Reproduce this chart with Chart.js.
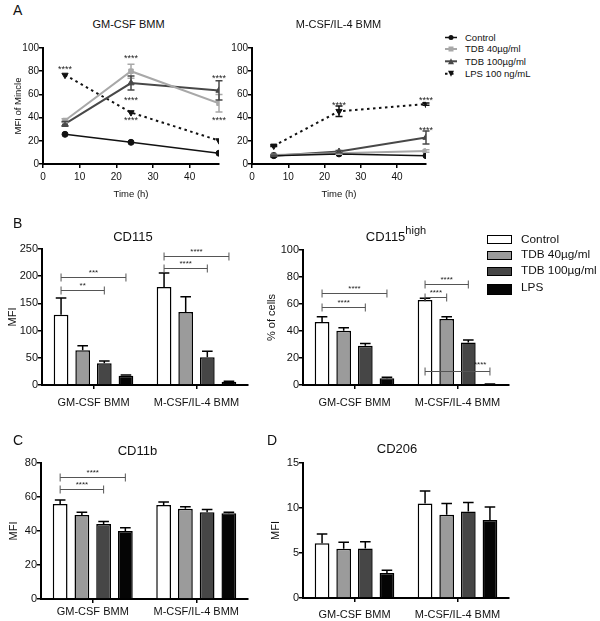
<!DOCTYPE html>
<html>
<head>
<meta charset="utf-8">
<title>Mincle, CD115, CD11b and CD206 in BMM</title>
<script src="https://cdn.jsdelivr.net/npm/chart.js@4.4.1/dist/chart.umd.min.js"></script>
<style>
  body { margin: 0; background: #fff; }
  #fig { position: relative; width: 600px; height: 621px; overflow: hidden;
         font-family: "Liberation Sans", Arial, sans-serif; color: #111; }
  #fig canvas { position: absolute; }
  .t { position: absolute; white-space: nowrap; }
  .swatch { position: absolute; box-sizing: border-box; border: 1.5px solid #000; }
</style>
</head>
<body>
<div id="fig">
  <canvas id="aGm"></canvas>
  <canvas id="aM"></canvas>
  <canvas id="bCd115"></canvas>
  <canvas id="bHigh"></canvas>
  <canvas id="cCd11b"></canvas>
  <canvas id="dCd206"></canvas>
</div>
<script>
// ---------- data ----------
const hours = [6, 24, 48];
const timeTicks = [0, 10, 20, 30, 40];
const lineNames = ['Control', 'TDB 40µg/ml', 'TDB 100µg/ml', 'LPS 100 ng/mL'];

// A: MFI of Mincle, GM-CSF BMM
const gmControl = [25.6, 18.7, 9.3];
const gmTdb40 = [37.5, 80, 52.4];
const gmTdb40Err = [1.5, 6, 7.5];
const gmTdb100 = [34.6, 69.8, 63.4];
const gmTdb100Err = [2, 6, 8.3];
const gmLps = [76.7, 44.4, 20.2];

// A: MFI of Mincle, M-CSF/IL-4 BMM
const mControl = [7.2, 8.7, 7.2];
const mTdb40 = [7.8, 9.2, 11.2];
const mTdb40Err = [0.5, 0.8, 1];
const mTdb100 = [7.2, 10.7, 22.8];
const mTdb100Err = [0.5, 1, 5.6];
const mLps = [15.6, 45.5, 51.6];
const mLpsErr = [0.5, 4.5, 1];

// B-D: one row per treatment, one value per culture
const groups = ['GM-CSF BMM', 'M-CSF/IL-4 BMM'];
const barNames = ['Control', 'TDB 40µg/ml', 'TDB 100µg/ml', 'LPS'];
const cd115 = [[129, 180], [64, 134], [40, 51], [17, 6]];
const cd115Err = [[31, 26], [8, 28], [4, 11], [1.5, 1]];
const cd115High = [[46.7, 63], [40.2, 48.9], [29.1, 31.4], [5, 0.5]];
const cd115HighErr = [[3.9, 1.2], [2.2, 1.7], [1.7, 1.9], [0.7, 0.2]];
const cd11b = [[55.9, 55.3], [49.4, 53.1], [44.1, 51], [40, 50.4]];
const cd11bErr = [[2.3, 1.7], [1.6, 1.2], [1.5, 1.7], [1.9, 0.6]];
const cd206 = [[6.07, 10.5], [5.48, 9.26], [5.5, 9.6], [2.78, 8.67]];
const cd206Err = [[1.03, 1.4], [0.72, 1.24], [0.76, 1.0], [0.29, 1.43]];

// ---------- styles ----------
const FONT = '"Liberation Sans", Arial, sans-serif';
Chart.defaults.font.family = FONT;
Chart.defaults.color = '#111';

const lineStyles = [
  { color: '#111111', width: 1.5, dash: [], point: 'circle', radius: 3, rot: 0 },
  { color: '#a8a8a8', width: 2, dash: [], point: 'rect', radius: 3.2, rot: 0 },
  { color: '#484848', width: 2, dash: [], point: 'triangle', radius: 3.6, rot: 0 },
  { color: '#111111', width: 2, dash: [2.5, 3.5], point: 'triangle', radius: 3.6, rot: 180 }
];
const barFills = ['#ffffff', '#9b9b9b', '#464646', '#050505'];

// ---------- plugins ----------
const errorBars = {
  id: 'errorBars',
  afterDatasetsDraw(chart) {
    const ctx = chart.ctx, y = chart.scales.y;
    const isBar = chart.config.type === 'bar';
    chart.data.datasets.forEach((ds, i) => {
      if (!ds.err) return;
      chart.getDatasetMeta(i).data.forEach((el, j) => {
        const e = ds.err[j];
        if (!e) return;
        const v = typeof ds.data[j] === 'object' ? ds.data[j].y : ds.data[j];
        const top = y.getPixelForValue(v + e);
        const bot = isBar ? el.y : y.getPixelForValue(v - e);
        const half = isBar ? el.width * 0.36 : 3.5;
        ctx.save();
        ctx.strokeStyle = isBar ? '#000' : ds.borderColor;
        ctx.lineWidth = 1.5;
        ctx.beginPath();
        ctx.moveTo(el.x, bot); ctx.lineTo(el.x, top);
        ctx.moveTo(el.x - half, top); ctx.lineTo(el.x + half, top);
        if (!isBar) { ctx.moveTo(el.x - half, bot); ctx.lineTo(el.x + half, bot); }
        ctx.stroke();
        ctx.restore();
      });
    });
  }
};

const brackets = {
  id: 'brackets',
  afterDatasetsDraw(chart, args, opts) {
    const ctx = chart.ctx, y = chart.scales.y;
    (opts.items || []).forEach(b => {
      const x1 = chart.getDatasetMeta(b.from).data[b.group].x;
      const x2 = chart.getDatasetMeta(b.to).data[b.group].x;
      const py = Math.round(y.getPixelForValue(b.at)) + 0.5;
      ctx.save();
      ctx.strokeStyle = '#555'; ctx.lineWidth = 1;
      ctx.beginPath();
      ctx.moveTo(x1, py); ctx.lineTo(x2, py);
      ctx.moveTo(x1, py - 4); ctx.lineTo(x1, py + 4);
      ctx.moveTo(x2, py - 4); ctx.lineTo(x2, py + 4);
      ctx.stroke();
      ctx.fillStyle = '#222';
      ctx.font = '8px ' + FONT;
      ctx.textAlign = 'center';
      ctx.fillText(b.text, x1 + (x2 - x1) * (b.frac ?? 0.5), py - (b.lift ?? 3));
      ctx.restore();
    });
  }
};

const starMarks = {
  id: 'starMarks',
  afterDatasetsDraw(chart, args, opts) {
    const { ctx, scales: { x, y } } = chart;
    ctx.save();
    ctx.font = '9px ' + FONT;
    ctx.fillStyle = '#222';
    ctx.textAlign = 'center';
    (opts.items || []).forEach(s => {
      ctx.fillText('****', x.getPixelForValue(s.x), y.getPixelForValue(s.y) + 5);
    });
    ctx.restore();
  }
};

// ---------- helpers ----------
const fig = document.getElementById('fig');

// put canvas so that its chart area lands on [l, t, r, b]
function frame(id, area, yW, xH) {
  const c = document.getElementById(id);
  const left = area[0] - yW, top = area[1] - 12;
  c.width = area[2] - left + 10;
  c.height = area[3] - top + xH;
  c.style.left = left + 'px';
  c.style.top = top + 'px';
  return c;
}

function text(html, x, capTop, size, center) {
  const d = document.createElement('div');
  d.className = 't';
  d.innerHTML = html;
  d.style.fontSize = size + 'px';
  d.style.lineHeight = size + 'px';
  d.style.top = (capTop - 0.13 * size) + 'px';
  if (center) {
    d.style.left = (x - 100) + 'px';
    d.style.width = '200px';
    d.style.textAlign = 'center';
  } else {
    d.style.left = x + 'px';
  }
  fig.appendChild(d);
}

function yAxis(max, step, yW, fontSize, title, titlePad) {
  return {
    min: 0, max: max,
    ticks: { stepSize: step, padding: 0, font: { size: fontSize }, color: '#111' },
    grid: { drawOnChartArea: false, drawTicks: true, tickLength: 4, color: '#000', lineWidth: 1.5 },
    border: { display: true, color: '#000', width: 2 },
    title: title ? { display: true, text: title, font: { size: title === 'MFI of Mincle' ? 9.5 : 11 },
                     padding: { top: titlePad, bottom: 0 }, color: '#111' } : { display: false },
    afterFit: s => { s.width = yW; }
  };
}

function lineChart(id, area, yW, series, errs, stars, yTitle) {
  const c = frame(id, area, yW, 38);
  return new Chart(c, {
    type: 'line',
    data: {
      datasets: series.map((vals, i) => {
        const st = lineStyles[i];
        return {
          label: lineNames[i],
          data: hours.map((h, j) => ({ x: h, y: vals[j] })),
          err: errs[i],
          borderColor: st.color, backgroundColor: st.color, borderWidth: st.width,
          borderDash: st.dash, pointStyle: st.point, pointRadius: st.radius,
          pointRotation: st.rot, pointBorderWidth: 1, tension: 0
        };
      })
    },
    options: {
      responsive: false, animation: false,
      layout: { padding: { top: 12, right: 10, left: 0, bottom: 0 } },
      scales: {
        x: {
          type: 'linear', min: 0, max: 48,
          afterBuildTicks: s => { s.ticks = timeTicks.map(v => ({ value: v })); },
          ticks: { padding: 3, font: { size: 10 }, color: '#111' },
          grid: { drawOnChartArea: false, drawTicks: true, tickLength: 4, color: '#000', lineWidth: 1.5 },
          border: { display: true, color: '#000', width: 2 },
          title: { display: true, text: 'Time (h)', font: { size: 9.5 }, padding: { top: 0, bottom: 2 }, color: '#111' },
          afterFit: s => { s.height = 38; }
        },
        y: yAxis(100, 20, yW, 10, yTitle, 12.3)
      },
      plugins: { legend: { display: false }, tooltip: { enabled: false }, starMarks: { items: stars } }
    },
    plugins: [errorBars, starMarks]
  });
}

function barChart(id, area, yW, xH, means, errs, max, step, yTitle, titlePad, labelPad, marks) {
  const c = frame(id, area, yW, xH);
  return new Chart(c, {
    type: 'bar',
    data: {
      labels: groups,
      datasets: barNames.map((n, i) => ({
        label: n, data: means[i], err: errs[i],
        backgroundColor: barFills[i], borderColor: '#000', borderWidth: 1.5,
        categoryPercentage: 0.84, barPercentage: 0.68
      }))
    },
    options: {
      responsive: false, animation: false,
      layout: { padding: { top: 12, right: 10, left: 0, bottom: 0 } },
      scales: {
        x: {
          ticks: { padding: labelPad, font: { size: 11 }, color: '#111' },
          grid: { offset: false, drawOnChartArea: false, drawTicks: true, tickLength: 4, color: '#000', lineWidth: 1.5 },
          border: { display: true, color: '#000', width: 2 },
          afterFit: s => { s.height = xH; }
        },
        y: yAxis(max, step, yW, 11, yTitle, titlePad)
      },
      plugins: { legend: { display: false }, tooltip: { enabled: false }, brackets: { items: marks } }
    },
    plugins: [errorBars, brackets]
  });
}

// ---------- panel A ----------
lineChart('aGm', [43, 48, 219, 164], 43,
  [gmControl, gmTdb40, gmTdb100, gmLps], [null, gmTdb40Err, gmTdb100Err, null],
  [{ x: 6, y: 84 }, { x: 24, y: 93 }, { x: 24, y: 57 }, { x: 24, y: 39.5 }, { x: 48, y: 76 }, { x: 48, y: 39.5 }],
  'MFI of Mincle');
lineChart('aM', [252, 48, 426, 164], 30,
  [mControl, mTdb40, mTdb100, mLps], [null, mTdb40Err, mTdb100Err, mLpsErr],
  [{ x: 24, y: 53 }, { x: 48, y: 57.3 }, { x: 48, y: 31.4 }],
  null);

// ---------- panel B ----------
barChart('bCd115', [42, 249, 248, 385], 42, 30, cd115, cd115Err, 250, 50, 'MFI', 6.4, 6.9, [
  { from: 0, to: 3, group: 0, at: 199, text: '***' },
  { from: 0, to: 2, group: 0, at: 174.6, text: '**' },
  { from: 0, to: 3, group: 1, at: 237.7, text: '****' },
  { from: 0, to: 2, group: 1, at: 215.6, text: '****' }
]);
barChart('bHigh', [303, 250, 509, 385], 48, 30, cd115High, cd115HighErr, 100, 20, '% of cells', 10, 6.9, [
  { from: 0, to: 3, group: 0, at: 68.4, text: '****' },
  { from: 0, to: 2, group: 0, at: 57.5, text: '****' },
  { from: 0, to: 2, group: 1, at: 74.8, text: '****' },
  { from: 0, to: 1, group: 1, at: 65.4, text: '****' },
  { from: 0, to: 3, group: 1, at: 10.5, text: '****', frac: 0.85, lift: 5 }
]);

// ---------- panels C and D ----------
barChart('cCd11b', [41, 463, 248, 599], 41, 22, cd11b, cd11bErr, 80, 20, 'MFI', 7.4, 2.4, [
  { from: 0, to: 3, group: 0, at: 72, text: '****' },
  { from: 0, to: 2, group: 0, at: 64.7, text: '****' }
]);
barChart('dCd206', [303, 463, 509, 598], 48, 23, cd206, cd206Err, 15, 5, 'MFI', 14.4, 5.9, []);

// ---------- titles and panel letters ----------
text('A', 13, 5, 14);
text('B', 13, 218, 14);
text('C', 13, 435, 14);
text('D', 267, 435, 14);
text('GM-CSF BMM', 128.5, 20, 11, true);
text('M-CSF/IL-4 BMM', 338.5, 20, 11, true);
text('CD115', 133, 232, 13, true);
text('CD115<span style="position:relative;top:-7px;font-size:11px">high</span>', 396, 232, 13, true);
text('CD11b', 137.5, 446, 13, true);
text('CD206', 397, 443.3, 13, true);

// ---------- legend A ----------
const keyRowsA = [37.5, 49, 61.3, 73.8];
const ns = 'http://www.w3.org/2000/svg';
const svg = document.createElementNS(ns, 'svg');
svg.setAttribute('width', 24); svg.setAttribute('height', 56);
svg.style.position = 'absolute'; svg.style.left = '440px'; svg.style.top = '28px';
lineStyles.forEach((st, i) => {
  const cy = keyRowsA[i] - 28;
  const ln = document.createElementNS(ns, 'line');
  ln.setAttribute('x1', 5); ln.setAttribute('x2', 17); ln.setAttribute('y1', cy); ln.setAttribute('y2', cy);
  ln.setAttribute('stroke', st.color); ln.setAttribute('stroke-width', st.width);
  if (st.dash.length) ln.setAttribute('stroke-dasharray', st.dash.join(' '));
  svg.appendChild(ln);
  let m;
  if (st.point === 'circle') {
    m = document.createElementNS(ns, 'circle');
    m.setAttribute('cx', 11); m.setAttribute('cy', cy); m.setAttribute('r', 2.5);
  } else if (st.point === 'rect') {
    m = document.createElementNS(ns, 'rect');
    m.setAttribute('x', 8.5); m.setAttribute('y', cy - 2.5); m.setAttribute('width', 5); m.setAttribute('height', 5);
  } else {
    const d = st.rot ? 3 : -3;
    m = document.createElementNS(ns, 'polygon');
    m.setAttribute('points', `8,${cy - d} 14,${cy - d} 11,${cy + d}`);
  }
  m.setAttribute('fill', st.color);
  svg.appendChild(m);
  text(lineNames[i], 465, keyRowsA[i] - 3.4, 9.5);
});
fig.appendChild(svg);

// ---------- legend B ----------
const keyRowsB = [239.5, 255, 271, 288];
barNames.forEach((n, i) => {
  const sw = document.createElement('div');
  sw.className = 'swatch';
  sw.style.left = '487px'; sw.style.top = (keyRowsB[i] - 4.5) + 'px';
  sw.style.width = '25px'; sw.style.height = (i === 3 ? 11 : 9) + 'px';
  sw.style.background = barFills[i];
  fig.appendChild(sw);
  text(n, 521, keyRowsB[i] - 4.3, 11.8);
});
</script>
</body>
</html>
